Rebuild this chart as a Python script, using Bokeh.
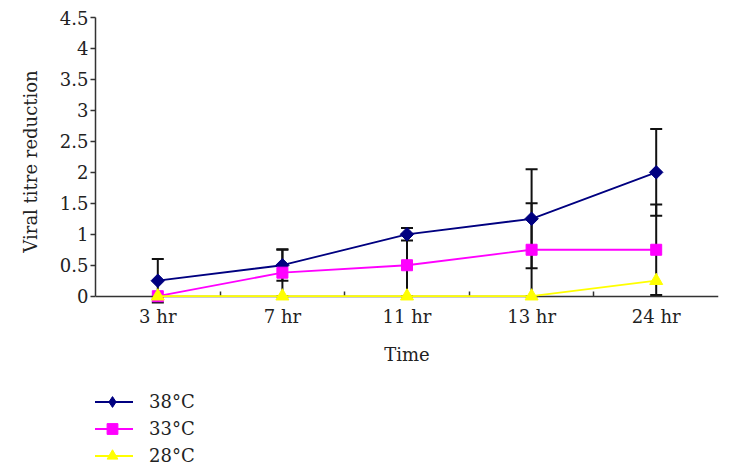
import math
from bokeh.plotting import figure
from bokeh.layouts import column
from bokeh.models import (ColumnDataSource, FactorRange, Range1d, CategoricalAxis,
                          FixedTicker, Whisker, TeeHead, NumeralTickFormatter, Legend)
from bokeh.embed import file_html
from bokeh.resources import INLINE

# ---- data ----
categories = ["3 hr", "7 hr", "11 hr", "13 hr", "24 hr"]
s38 = [0.25, 0.5, 1.0, 1.25, 2.0]
e38 = [0.35, 0.25, 0.1, 0.8, 0.7]
s33 = [0.0, 0.38, 0.5, 0.75, 0.75]
e33 = [0.0, 0.38, 0.5, 0.75, 0.73]
s28 = [0.0, 0.0, 0.0, 0.0, 0.25]
y_ticks = [0, 0.5, 1, 1.5, 2, 2.5, 3, 3.5, 4, 4.5]
labels = ["38°C", "33°C", "28°C"]

FONT = "DejaVu Serif"
TXT = "#222222"
AX = "#333333"
C38, C33, C28 = "#000080", "#FF00FF", "#FFFF00"

p = figure(x_range=FactorRange(*categories), y_range=Range1d(-0.15, 4.5),
           width=731, height=385, output_backend="svg", toolbar_location=None,
           min_border_left=95, min_border_right=13, min_border_top=17,
           min_border_bottom=80)
p.outline_line_color = None
p.xgrid.visible = False
p.ygrid.visible = False

# x axis (labels only, at the frame's bottom edge)
xa = p.xaxis[0]
xa.major_tick_in = 0
xa.major_tick_out = 0
xa.axis_line_color = None
xa.major_label_standoff = 0
xa.major_label_text_font = FONT
xa.major_label_text_font_size = "18px"
xa.major_label_text_color = TXT
xa.axis_label = "Time"
xa.axis_label_text_font = FONT
xa.axis_label_text_font_size = "18px"
xa.axis_label_text_font_style = "normal"
xa.axis_label_text_color = TXT
xa.axis_label_standoff = 14

# axis line at zero with boundary ticks: a second factor range shifted by half a band
bounds_f = ["b%d" % i for i in range(len(categories) + 1)]
p.extra_x_ranges = {"bands": FactorRange(*bounds_f, range_padding=-0.5,
                                         range_padding_units="absolute")}
ta = CategoricalAxis(x_range_name="bands", fixed_location=0,
                     axis_line_color=AX, axis_line_width=1.5,
                     major_tick_in=5, major_tick_out=0, major_tick_line_color=AX,
                     major_tick_line_width=1.5,
                     minor_tick_line_color=None, major_label_text_color=None,
                     major_label_text_font_size="1px", major_label_standoff=0)
p.add_layout(ta, "below")

# y axis
ya = p.yaxis[0]
ya.ticker = FixedTicker(ticks=y_ticks)
ya.bounds = (0, 4.5)
ya.formatter = NumeralTickFormatter(format="0.[0]")
ya.major_tick_out = 5
ya.major_tick_in = 0
ya.minor_tick_line_color = None
ya.axis_line_color = AX
ya.axis_line_width = 1.5
ya.major_tick_line_color = AX
ya.major_tick_line_width = 1.5
ya.major_label_standoff = 2
ya.major_label_text_font = FONT
ya.major_label_text_font_size = "18px"
ya.major_label_text_color = TXT
ya.axis_label = "Viral titre reduction"
ya.axis_label_text_font = FONT
ya.axis_label_text_font_size = "18px"
ya.axis_label_text_font_style = "normal"
ya.axis_label_text_color = TXT
ya.axis_label_standoff = 16

# error bars
def add_err(vals, errs):
    xs, up, lo = [], [], []
    for c, v, e in zip(categories, vals, errs):
        if e > 0:
            xs.append(c)
            up.append(v + e)
            lo.append(v - e)
    src = ColumnDataSource(dict(x=xs, upper=up, lower=lo))
    w = Whisker(base="x", upper="upper", lower="lower", source=src,
                dimension="height", line_color="#111111", line_width=2,
                upper_head=TeeHead(size=12, line_color="#111111", line_width=2),
                lower_head=TeeHead(size=12, line_color="#111111", line_width=2),
                level="underlay")
    p.add_layout(w)

add_err(s38, e38)
add_err(s33, e33)

# series
p.line(categories, s38, line_color=C38, line_width=1.8)
p.scatter(categories, s38, marker="square", angle=math.pi / 4, size=9.5,
          fill_color=C38, line_color=C38)

p.line(categories, s33, line_color=C33, line_width=1.8)
p.scatter(categories, s33, marker="square", size=11, fill_color=C33, line_color=C33)

p.line(categories, s28, line_color=C28, line_width=1.8, level="overlay")
p.scatter(categories, s28, marker="triangle", size=13, fill_color=C28,
          line_color=C28, level="overlay")

# ---- legend panel below the chart ----
lf = figure(x_range=p.x_range, y_range=Range1d(0, 1), width=731, height=86,
            output_backend="svg", toolbar_location=None,
            x_axis_type=None, y_axis_type=None,
            min_border_left=0, min_border_right=0, min_border_top=0,
            min_border_bottom=0)
lf.outline_line_color = None
lf.xgrid.visible = False
lf.ygrid.visible = False

items = []
for lab, vals, col, mk in [(labels[0], s38, C38, "diamond"),
                           (labels[1], s33, C33, "square"),
                           (labels[2], s28, C28, "triangle")]:
    rl = lf.line(categories, vals, line_color=col, line_width=1.8, visible=False)
    rs = lf.scatter(categories, vals, marker=mk, fill_color=col, line_color=col,
                    visible=False)
    items.append((lab, [rl, rs]))

lg = Legend(items=items, location=(-4, 2.5), orientation="vertical",
            glyph_width=42, glyph_height=27, label_height=20, spacing=0,
            padding=0, margin=0, label_standoff=16, border_line_color=None,
            background_fill_alpha=0, inactive_fill_alpha=0,
            label_text_font=FONT, label_text_font_size="18px",
            label_text_color=TXT)
lf.add_layout(lg)

layout = column(p, lf, spacing=0)
open("out.html", "w").write(file_html(layout, INLINE))
